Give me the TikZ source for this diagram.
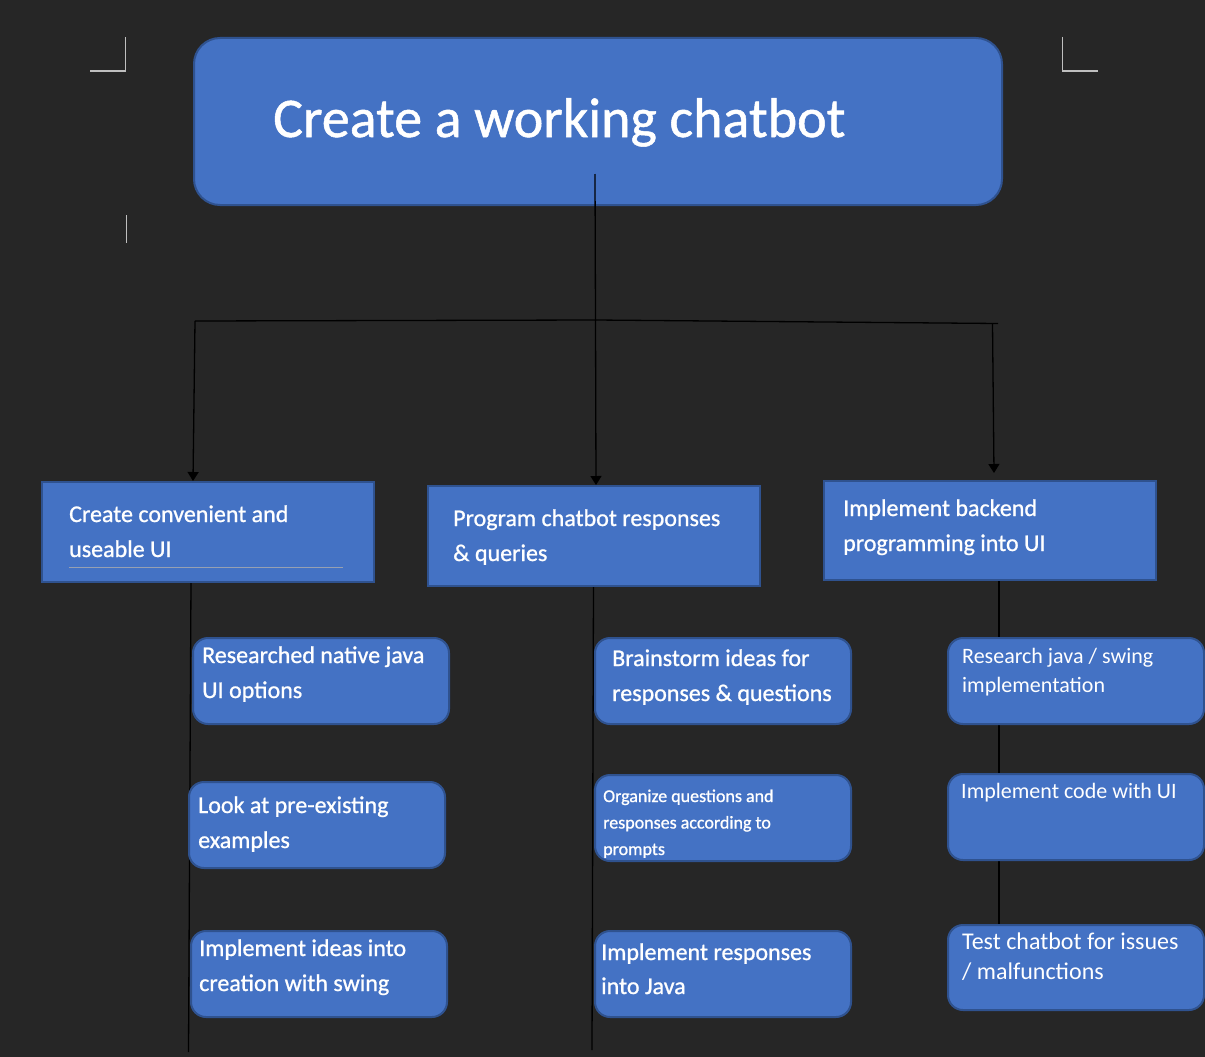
\documentclass[tikz,border=0pt]{standalone}
\usepackage{fontspec}
\setmainfont{Carlito}
\newfontfamily\heavyfont[FakeBold=0.9]{Carlito}
\usetikzlibrary{arrows.meta}
\definecolor{bg}{RGB}{38,38,38}
\definecolor{boxfill}{RGB}{68,114,196}
\definecolor{boxline}{RGB}{47,82,143}
\definecolor{markgray}{RGB}{191,191,191}
\definecolor{ulgray}{RGB}{150,160,178}
\newcommand\boxtext[3]{\parbox[t]{400pt}{\raggedright\fontsize{#1}{#2}\selectfont #3}}
\begin{document}
\begin{tikzpicture}[x=1pt,y=-1pt,
  flatbox/.style={draw=boxline, line width=2pt, fill=boxfill, inner sep=0pt, anchor=north west},
  roundbox/.style={draw=boxline, line width=2pt, fill=boxfill, rounded corners=15pt, inner sep=0pt, anchor=north west},
  txt/.style={text=white, inner sep=0pt, anchor=base west},
  htxt/.style={txt, font=\heavyfont},
  conn/.style={draw=black, line width=1.3pt},
  arr/.style={conn, -{Triangle[width=11pt,length=9pt]}},
  crop/.style={draw=markgray, line width=1.2pt}
]
\useasboundingbox (0,0) rectangle (1205,1057);
\fill[bg] (0,0) rectangle (1205,1057);

% crop marks
\draw[crop] (90,71) -- (125.5,71) -- (125.5,37);
\draw[crop] (1062.5,37) -- (1062.5,71) -- (1097.5,71);
\draw[crop] (126.5,215) -- (126.5,243);

% spines (behind the boxes)
\coordinate (sl1) at (191,581);
\coordinate (sl2) at (188.5,1052);
\coordinate (sm1) at (593.5,585);
\coordinate (sm2) at (592,1050);
\coordinate (sr1) at (999,579);
\coordinate (sr2) at (999,930);
\draw[conn] (sl1) -- (sl2);
\draw[conn] (sm1) -- (sm2);
\draw[conn] (sr1) -- (sr2);

% title box
\node[roundbox, rounded corners=26pt, minimum width=808pt, minimum height=167pt] (title) at (193,37) {};
\node[htxt] (titletext) at (273,137) {\fontsize{56}{60}\selectfont Create a working chatbot};

% level 1 boxes
\node[flatbox, minimum width=332pt, minimum height=100pt] (a) at (41,481) {};
\node[htxt] (atext) at (69,522) {\boxtext{24}{35}{Create convenient and\\useable UI}};
\coordinate (ul1) at (69,567);
\coordinate (ul2) at (343,567);
\draw[draw=ulgray, line width=0.8pt] (ul1) -- (ul2);

\node[flatbox, minimum width=332pt, minimum height=100pt] (b) at (427,485) {};
\node[htxt] (btext) at (453,526) {\boxtext{24}{35}{Program chatbot responses\\\& queries}};

\node[flatbox, minimum width=332pt, minimum height=99pt] (c) at (823,480) {};
\node[htxt] (ctext) at (843,516) {\boxtext{24}{35}{Implement backend\\programming into UI}};

% level 2 left
\node[roundbox, minimum width=256pt, minimum height=86pt] (l1) at (192,637) {};
\node[htxt] (l1text) at (202,663) {\boxtext{24}{35}{Researched native java\\UI options}};
\node[roundbox, minimum width=256pt, minimum height=86pt] (l2) at (188,781) {};
\node[htxt] (l2text) at (198,813) {\boxtext{24}{35}{Look at pre-existing\\examples}};
\node[roundbox, minimum width=256pt, minimum height=86pt] (l3) at (190,930) {};
\node[htxt] (l3text) at (199,956) {\boxtext{24}{35}{Implement ideas into\\creation with swing}};

% level 2 middle
\node[roundbox, minimum width=256pt, minimum height=86pt] (m1) at (594,637) {};
\node[htxt] (m1text) at (612,666) {\boxtext{24}{35}{Brainstorm ideas for\\responses \& questions}};
\node[roundbox, minimum width=256pt, minimum height=86pt] (m2) at (594,774) {};
\node[htxt] (m2text) at (603,802) {\boxtext{18}{26.5}{Organize questions and\\responses according to\\prompts}};
\node[roundbox, minimum width=256pt, minimum height=86pt] (m3) at (594,930) {};
\node[htxt] (m3text) at (601,960) {\boxtext{24}{34}{Implement responses\\into Java}};

% level 2 right
\node[roundbox, minimum width=256pt, minimum height=86pt] (r1) at (947,637) {};
\node[txt] (r1text) at (962,663) {\boxtext{22}{29}{Research java / swing\\implementation}};
\node[roundbox, minimum width=256pt, minimum height=86pt] (r2) at (947,773) {};
\node[txt] (r2text) at (961,798) {\boxtext{22}{29}{Implement code with UI}};
\node[roundbox, minimum width=256pt, minimum height=85pt] (r3) at (947,924) {};
\node[txt] (r3text) at (962,949) {\boxtext{24}{30.5}{Test chatbot for issues\\/ malfunctions}};

% connectors
\coordinate (tstart) at (595,174);
\coordinate (j) at (595.5,320);
\coordinate (hl) at (195,321);
\coordinate (hr) at (998,323.5);
\coordinate (dr) at (992.5,323.5);
\coordinate (tipl) at (193,481);
\coordinate (tipm) at (596,485);
\coordinate (tipr) at (994,473);
\draw[conn] (tstart) -- (j);
\draw[conn] (hl) -- (j) -- (hr);
\draw[arr] (hl) -- (tipl);
\draw[arr] (j) -- (tipm);
\draw[arr] (dr) -- (tipr);
\end{tikzpicture}
\end{document}
